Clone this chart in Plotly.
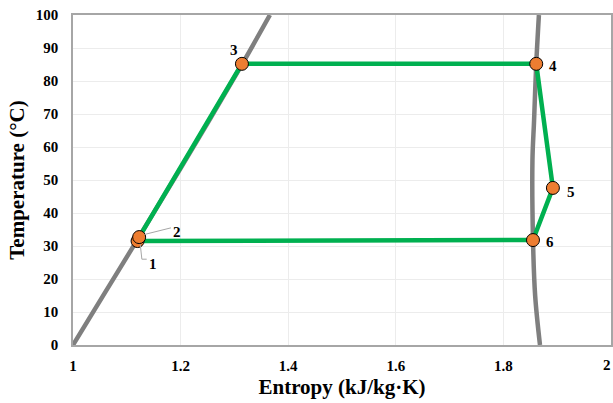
import plotly.graph_objects as go

# Saturation dome
liq_s = [1.0, 1.06, 1.12, 1.2, 1.314, 1.366]
liq_T = [0, 16, 32, 53.5, 85, 100]
vap_s = [1.868, 1.859, 1.855, 1.854, 1.857, 1.861, 1.866]
vap_T = [0, 15, 32, 56, 68, 85, 100]

# Cycle state points
pt_labels = ["1", "2", "3", "4", "5", "6"]
pt_s = [1.12, 1.123, 1.314, 1.861, 1.892, 1.855]
pt_T = [31.5, 32.7, 85.2, 85.2, 47.6, 31.8]

# Cycle path order
path = [1, 2, 3, 4, 5, 0]

x_ticks = [1, 1.2, 1.4, 1.6, 1.8, 2]
y_ticks = list(range(0, 101, 10))

fig = go.Figure()
fig.add_trace(go.Scatter(x=liq_s, y=liq_T, mode="lines", line=dict(color="#7f7f7f", width=4.5, shape="spline"), hoverinfo="skip"))
fig.add_trace(go.Scatter(x=vap_s, y=vap_T, mode="lines", line=dict(color="#7f7f7f", width=4.5, shape="spline"), hoverinfo="skip"))
fig.add_trace(go.Scatter(x=[pt_s[i] for i in path], y=[pt_T[i] for i in path], mode="lines",
                         line=dict(color="#00b050", width=4.5)))
fig.add_trace(go.Scatter(x=pt_s, y=pt_T, mode="markers",
                         marker=dict(color="#ed7d31", size=13, line=dict(color="black", width=1))))

font_lbl = dict(family="Liberation Serif", size=15, color="black")
lbl_pos = {"1": (1.148, 24.5), "2": (1.194, 34.2), "3": (1.299, 89.3), "4": (1.893, 84.5),
           "5": (1.926, 46.5), "6": (1.886, 31.2)}
for lab, (xx, yy) in lbl_pos.items():
    fig.add_annotation(x=xx, y=yy, text="<b>%s</b>" % lab, showarrow=False, font=font_lbl)

# leader lines for labels 1 and 2
fig.add_shape(type="line", x0=1.133, y0=33.5, x1=1.182, y1=35.5, line=dict(color="#a6a6a6", width=1))
fig.add_shape(type="line", x0=1.125, y0=30.5, x1=1.128, y1=26, line=dict(color="#a6a6a6", width=1))
fig.add_shape(type="line", x0=1.128, y0=26, x1=1.137, y1=26, line=dict(color="#a6a6a6", width=1))

axis_font = dict(family="Liberation Serif", size=15, color="black")
title_font = dict(family="Liberation Serif", size=21, color="black")

# last x tick label (sits at the page edge)
fig.add_annotation(x=x_ticks[-1], xref="x", y=0, yref="paper", yanchor="top", xanchor="right",
                   xshift=2, yshift=-10, text="<b>%g</b>" % x_ticks[-1], showarrow=False, font=axis_font)

fig.update_xaxes(range=[1, 2], tickvals=x_ticks, ticktext=["<b>%g</b>" % v for v in x_ticks],
                 tickfont=axis_font, showgrid=True, gridcolor="#ececec", gridwidth=1,
                 showline=True, linecolor="#a6a6a6", linewidth=1.5, mirror=True, zeroline=False,
                 ticks="", automargin=False, ticklabelstandoff=6,
                 title=dict(text="<b>Entropy (kJ/kg·K)</b>", font=title_font, standoff=7))
fig.update_yaxes(range=[0, 100], tickvals=y_ticks, ticktext=["<b>%d</b>" % v for v in y_ticks],
                 tickfont=axis_font, showgrid=True, gridcolor="#ececec", gridwidth=1,
                 showline=True, linecolor="#a6a6a6", linewidth=1.5, mirror=True, zeroline=False,
                 ticks="", automargin=False, ticklabelstandoff=10,
                 title=dict(text="<b>Temperature (°C)</b>", font=title_font, standoff=5))
fig.update_layout(width=613, height=403, showlegend=False, plot_bgcolor="white", paper_bgcolor="white",
                  margin=dict(l=73, r=2, t=15, b=58))
fig.write_html("out.html", config={"displayModeBar": False},
               post_script="document.body.style.margin='0';document.body.style.padding='0';"
                           "document.body.style.overflow='hidden';")
